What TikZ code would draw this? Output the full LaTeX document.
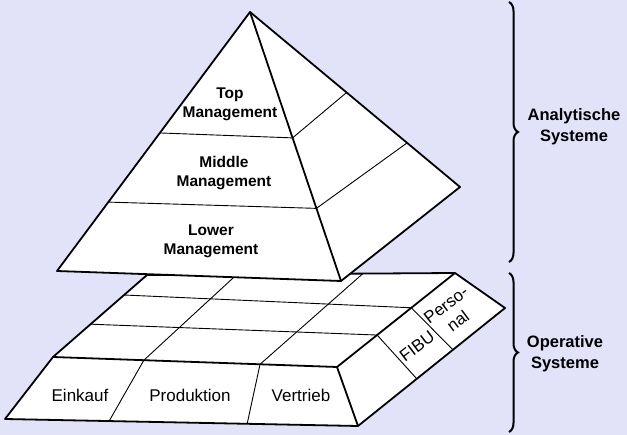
\documentclass[tikz,border=0pt]{standalone}
\usepackage{fontspec}
\setmainfont{Liberation Sans}
\usepackage{tikz}
\usetikzlibrary{calc,decorations.pathreplacing}
\definecolor{bgblue}{RGB}{226,226,248}
\tikzset{
	outline/.style={line width=1.8pt, line join=round},
	gridline/.style={line width=0.9pt},
	boldlabel/.style={font=\bfseries\fontsize{15.5}{19}\selectfont, align=center, inner sep=0pt},
	sidelabel/.style={font=\bfseries\fontsize{16.5}{21}\selectfont, align=center, inner sep=0pt},
	celllabel/.style={font=\fontsize{17}{20}\selectfont, align=center, inner sep=0pt},
	curly/.style={decorate, decoration={brace, amplitude=9pt}, line width=2pt}
}

\begin{document}
\begin{tikzpicture}[x=1pt, y=-1pt]
	\fill[bgblue] (0,0) rectangle (627,435);
	\useasboundingbox (0,0) rectangle (627,435);
	% operative layer
	\coordinate (BL) at (147,275);
	\coordinate (BR) at (455,273);
	\coordinate (FR) at (337,367);
	\coordinate (FL) at (53,357);
	\coordinate (BFL) at (5,419);
	\coordinate (BFR) at (358,426);
	\coordinate (BBR) at (505,308);
	\filldraw[fill=white, outline] (BL) -- (BR) -- (BBR) -- (BFR) -- (BFL) -- (FL) -- cycle;
	\draw[outline] (FL) -- (FR) -- (BR);
	\draw[outline] (FR) -- (BFR);
	\coordinate (r1l) at ($(BL)!0.244!(FL)$);
	\coordinate (r1r) at ($(BR)!0.37!(FR)$);
	\coordinate (r2l) at ($(BL)!0.6!(FL)$);
	\coordinate (r2r) at ($(BR)!0.66!(FR)$);
	\coordinate (c1b) at ($(BL)!0.292!(BR)$);
	\coordinate (c1f) at ($(FL)!0.32!(FR)$);
	\coordinate (c2b) at ($(BL)!0.701!(BR)$);
	\coordinate (c2f) at ($(FL)!0.729!(FR)$);
	\draw[gridline] (r1l) -- (r1r) -- ($(BFR)!0.646!(BBR)$);
	\draw[gridline] (r2l) -- (r2r) -- ($(BFR)!0.40!(BBR)$);
	\draw[gridline] (c1b) -- (c1f) -- ($(BFL)!0.295!(BFR)$);
	\draw[gridline] (c2b) -- (c2f) -- ($(BFL)!0.686!(BFR)$);
	\node[celllabel] (einkauf) at (80,395) {Einkauf};
	\node[celllabel] (produktion) at (190,395) {Produktion};
	\node[celllabel] (vertrieb) at (301,395) {Vertrieb};
	\node[celllabel, rotate=37] (fibu) at (417,346) {FIBU};
	\node[celllabel, rotate=37] (personal) at (452,313) {Perso-\\nal};
	% analytic pyramid
	\coordinate (A) at (250,12);
	\coordinate (L) at (57,271);
	\coordinate (F) at (341,281);
	\coordinate (R) at (460,187);
	\filldraw[fill=white, outline] (A) -- (L) -- (F) -- (R) -- cycle;
	\draw[outline] (A) -- (F);
	\draw[gridline] ($(A)!0.467!(L)$) -- ($(A)!0.468!(F)$) -- ($(A)!0.46!(R)$);
	\draw[gridline] ($(A)!0.734!(L)$) -- ($(A)!0.73!(F)$) -- ($(A)!0.748!(R)$);
	\node[boldlabel] (top) at (230,104) {Top\\Management};
	\node[boldlabel] (middle) at (224,173) {Middle\\Management};
	\node[boldlabel] (lower) at (211,241) {Lower\\Management};
	% braces
	\draw[curly] (509,2) -- (509,262);
	\draw[curly] (509,273) -- (509,432);
	\node[sidelabel] (analytisch) at (574,127) {Analytische\\Systeme};
	\node[sidelabel] (operativ) at (565,354) {Operative\\Systeme};
\end{tikzpicture}
\end{document}
